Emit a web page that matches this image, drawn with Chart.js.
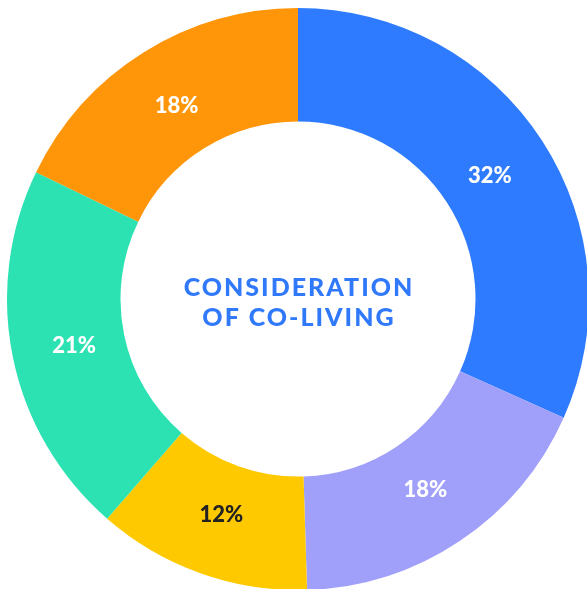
<!DOCTYPE html>
<html>
<head>
<meta charset="utf-8">
<script src="https://cdn.jsdelivr.net/npm/chart.js@4/dist/chart.umd.min.js"></script>
<style>
  html, body { margin: 0; padding: 0; background: #fff; overflow: hidden; }
  #wrap { position: absolute; left: -2px; top: -1px; width: 600px; height: 600px; }
</style>
</head>
<body>
<div id="wrap"><canvas id="grafCoLiving"></canvas></div>
<script>
// Dados do gráfico (em sentido horário a partir do topo)
const categorias = ["A", "B", "C", "D", "E"];
const valores = [32, 18, 12, 21, 18];
const cores = ["#2f7bff", "#a0a0fa", "#ffc900", "#2ce2b2", "#ff960a"];
const coresTexto = ["#ffffff", "#ffffff", "#222222", "#ffffff", "#ffffff"];
const tituloCentro = ["CONSIDERATION", "OF CO-LIVING"];

// Plugin simples: rótulos de porcentagem + texto central
const rotulos = {
  id: "rotulos",
  afterDraw(chart) {
    const ctx = chart.ctx;
    const meta = chart.getDatasetMeta(0);
    ctx.save();
    ctx.textAlign = "center";
    ctx.textBaseline = "middle";
    ctx.font = "900 22px Lato";
    meta.data.forEach((arc, i) => {
      const a = (arc.startAngle + arc.endAngle) / 2;
      const r = arc.innerRadius + (arc.outerRadius - arc.innerRadius) * 0.45;
      ctx.fillStyle = coresTexto[i];
      ctx.fillText(valores[i] + "%", arc.x + Math.cos(a) * r, arc.y + Math.sin(a) * r + 1);
    });

    // texto do centro
    const c = meta.data[0];
    ctx.fillStyle = "#3079fb";
    ctx.font = "900 25px Lato";
    ctx.letterSpacing = "2px";
    ctx.fillText(tituloCentro[0], c.x + 1, c.y - 11);
    ctx.fillText(tituloCentro[1], c.x + 1, c.y + 19);
    ctx.restore();
  }
};

new Chart(document.getElementById("grafCoLiving"), {
  type: "doughnut",
  plugins: [rotulos],
  data: {
    labels: categorias,
    datasets: [{
      data: valores,
      backgroundColor: cores,
      borderWidth: 0
    }]
  },
  options: {
    responsive: true,
    maintainAspectRatio: false,
    animation: false,
    cutout: "61%",
    layout: { padding: 9 },
    plugins: {
      legend: { display: false },
      tooltip: { enabled: false }
    }
  }
});
</script>
</body>
</html>
